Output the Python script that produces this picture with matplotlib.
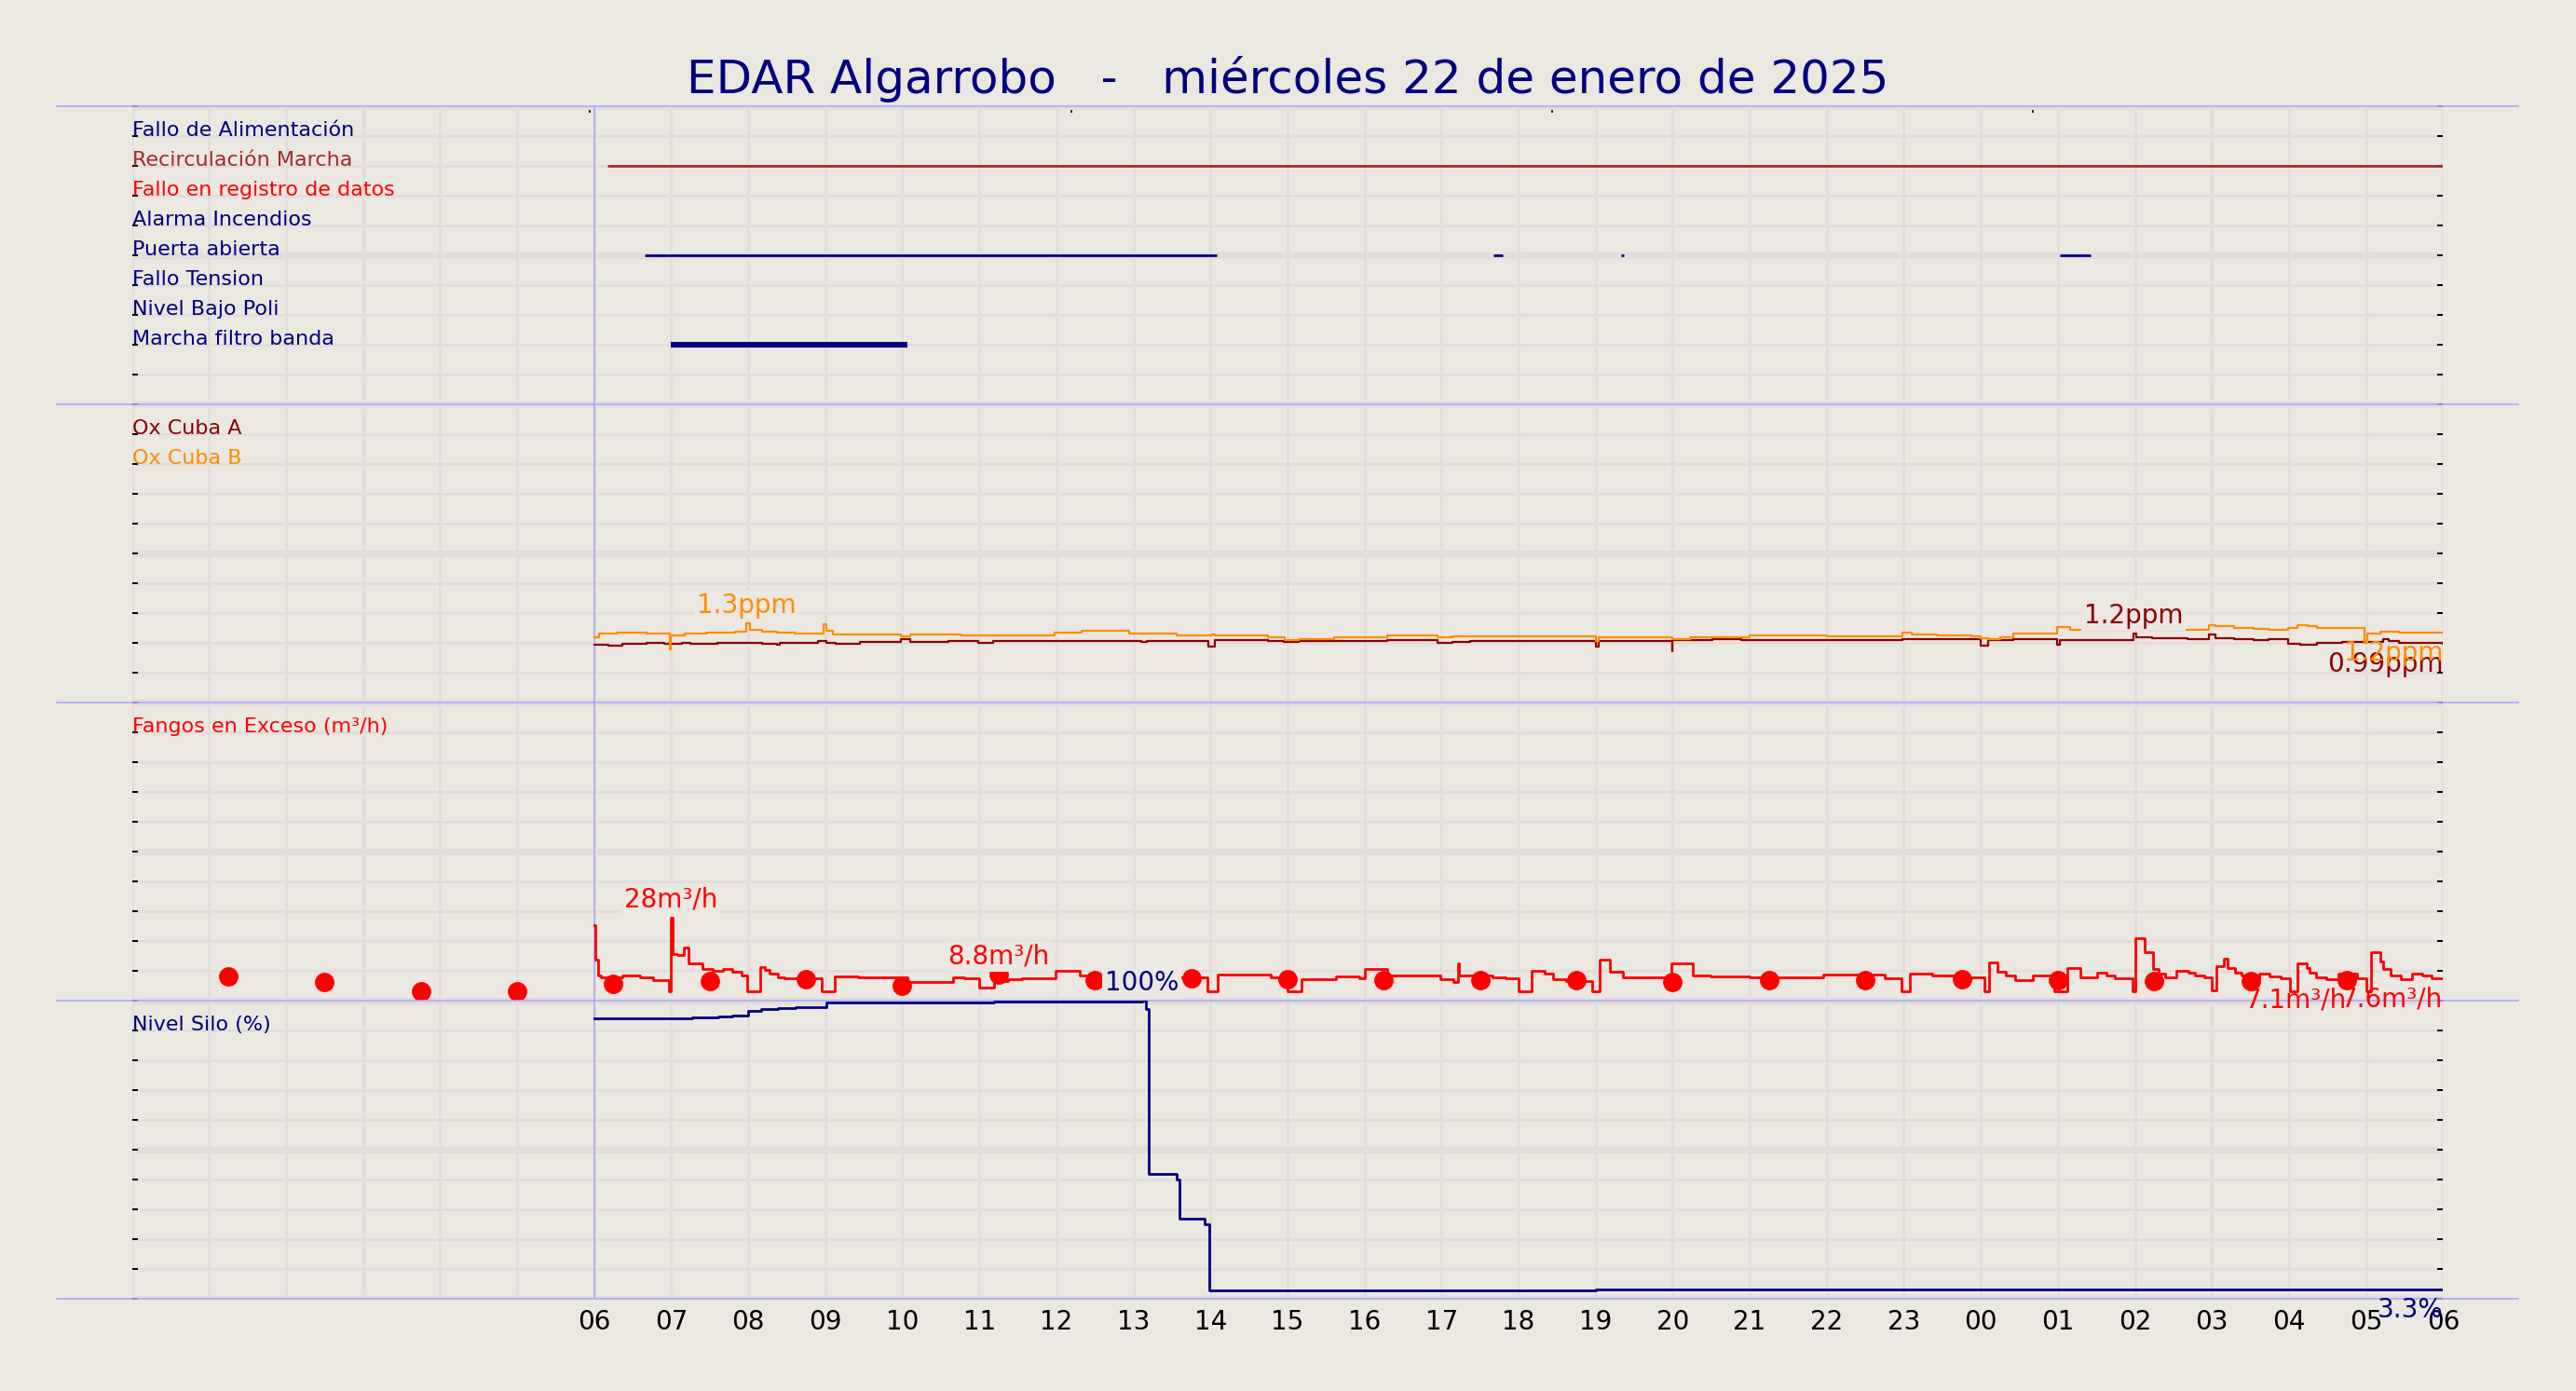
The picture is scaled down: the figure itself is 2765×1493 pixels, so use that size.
import numpy as np
import matplotlib.pyplot as plt

# ── Colours ───────────────────────────────────────────────────────────────────
BG = '#ebe7e1'
GRID = '#e2dddb'
SEP = '#aaaaff'

TITLE = 'EDAR Algarrobo   -   miércoles 22 de enero de 2025'

# hours counted from 00:00 of 22 Jan
HOURS = list(range(0, 31))
HOUR_LABELS = ['' if h < 6 else f'{h % 24:02d}' for h in HOURS]
TOP_TICKS = [5.94, 12.19, 18.43, 24.68]
DAY_START = 6.0

# ── Panel 1: digital signals ─────────────────────────────────────────────────
ROW_NAMES = ['Fallo de Alimentación', 'Recirculación Marcha', 'Fallo en registro de datos',
             'Alarma Incendios', 'Puerta abierta', 'Fallo Tension', 'Nivel Bajo Poli',
             'Marcha filtro banda']
ROW_COLORS = ['navy', 'brown', 'red', 'navy', 'navy', 'navy', 'navy', 'navy']
ROW_ON = [[], [(6.17, 30.0)], [], [],
          [(6.66, 14.08), (17.67, 17.80), (19.33, 19.37), (25.03, 25.43)],
          [], [], [(7.0, 10.07)]]

# ── Panel 2: oxygen (ppm) ─────────────────────────────────────────────────────
OX_A_T = [6.0, 6.18, 6.37, 6.68, 6.91, 7.14, 7.25, 7.6, 8.18, 8.37, 8.41, 8.91, 9.02, 9.14,
          9.45, 9.98, 10.1, 10.6, 10.98, 11.18, 13.1, 13.18, 13.97, 14.06, 14.75, 14.95,
          15.14, 16.29, 16.95, 17.14, 17.37, 19.0, 19.04, 19.99, 20.0, 20.52, 20.89, 22.98,
          24.0, 24.09, 24.42, 24.99, 25.03, 25.98, 26.02, 26.22, 26.39, 26.68, 26.96, 27.05,
          27.29, 27.54, 27.74, 27.99, 28.15, 28.36, 28.69, 29.22, 29.3, 29.43, 30.0]
OX_A = [0.975, 0.96, 0.985, 1.0, 0.99, 1.01, 0.99, 1.01, 0.99, 0.975, 1.01, 1.03, 1.01, 0.99,
        1.017, 1.064, 1.027, 1.037, 1.01, 1.03, 1.02, 1.037, 0.94, 1.053, 1.043, 1.02,
        1.037, 1.053, 1.0, 1.027, 1.037, 0.95, 1.037, 0.86, 1.053, 1.064, 1.053, 1.07,
        0.96, 1.053, 1.07, 0.975, 1.053, 1.16, 1.105, 1.08, 1.09, 1.07, 1.15, 1.08,
        1.064, 1.053, 1.064, 0.99, 0.975, 1.0, 1.027, 1.064, 1.043, 1.01, 0.99]

OX_B_T = [6.0, 6.06, 6.29, 6.68, 6.98, 7.0, 7.18, 7.45, 7.83, 7.98, 8.02, 8.18, 8.37, 8.6,
          8.98, 9.02, 9.1, 9.98, 10.1, 10.75, 10.98, 11.98, 12.33, 12.95, 13.14, 13.56,
          14.02, 14.06, 14.75, 14.97, 15.14, 15.6, 16.29, 16.95, 17.14, 19.0, 19.04, 19.99,
          20.23, 20.52, 21.0, 22.0, 22.98, 23.1, 23.43, 23.88, 24.0, 24.09, 24.25, 24.42,
          24.99, 25.16, 26.96, 27.05, 27.29, 27.54, 27.74, 27.99, 28.11, 28.24, 28.36,
          28.98, 29.02, 29.18, 29.43, 30.0]
OX_B = [1.105, 1.157, 1.173, 1.157, 0.90, 1.13, 1.168, 1.178, 1.199, 1.33, 1.22, 1.199,
        1.178, 1.168, 1.32, 1.21, 1.147, 1.116, 1.147, 1.137, 1.126, 1.178, 1.21, 1.168,
        1.157, 1.126, 1.147, 1.126, 1.105, 1.053, 1.069, 1.105, 1.126, 1.095, 1.116, 1.03,
        1.095, 1.074, 1.095, 1.105, 1.126, 1.116, 1.184, 1.147, 1.13, 1.116, 1.08, 1.069,
        1.105, 1.168, 1.27, 1.22, 1.31, 1.28, 1.26, 1.24, 1.22, 1.25, 1.31, 1.29, 1.26,
        1.0, 1.168, 1.19, 1.178, 1.178]

# ── Panel 3: excess sludge (m³/h) ─────────────────────────────────────────────
FANGOS_T = [6.0, 6.01, 6.05, 6.09, 6.37, 6.59, 6.77, 6.97, 7.0, 7.02, 7.08, 7.16, 7.23, 7.41,
            7.54, 7.67, 7.79, 7.91, 7.99, 8.16, 8.22, 8.28, 8.38, 8.47, 8.65, 8.96, 9.12,
            9.43, 10.07, 10.66, 10.81, 11.0, 11.19, 11.37, 11.56, 11.99, 12.3, 12.48, 13.16,
            13.22, 13.96, 14.09, 14.78, 14.89, 15.0, 15.18, 15.63, 15.93, 16.0, 16.3, 16.98,
            17.15, 17.21, 17.23, 17.66, 17.83, 18.0, 18.17, 18.34, 18.45, 18.62, 18.96, 19.05,
            19.19, 19.36, 19.98, 20.26, 20.49, 21.0, 21.96, 22.75, 22.97, 23.08, 23.37, 23.71,
            24.05, 24.11, 24.22, 24.33, 24.44, 24.67, 24.95, 25.12, 25.29, 25.51, 25.63,
            25.74, 25.97, 26.0, 26.13, 26.23, 26.31, 26.39, 26.54, 26.7, 26.78, 26.9, 27.0,
            27.06, 27.16, 27.2, 27.3, 27.38, 27.42, 27.61, 27.75, 27.89, 28.01, 28.11, 28.23,
            28.27, 28.35, 28.49, 28.64, 28.88, 29.0, 29.07, 29.18, 29.22, 29.32, 29.45, 29.6,
            29.73, 29.85, 30.0]
FANGOS = [25.4, 13.8, 8.5, 8.0, 8.5, 8.0, 7.0, 3.3, 28.0, 15.8, 15.3, 17.9, 12.5, 10.8,
          10.1, 10.8, 9.8, 8.5, 3.3, 11.5, 10.5, 9.1, 8.0, 7.7, 7.5, 3.3, 8.3,
          7.9, 6.5, 7.8, 7.7, 4.6, 6.8, 7.2, 7.7, 10.1, 8.5, 7.5, 11.0,
          8.0, 3.3, 8.9, 8.0, 7.3, 3.3, 7.3, 8.3, 7.5, 10.8, 8.5, 7.3,
          6.25, 12.7, 8.5, 7.9, 7.5, 3.3, 10.1, 9.1, 7.2, 6.7, 3.3, 13.75,
          9.8, 8.0, 12.7, 8.5, 8.2, 8.0, 8.9, 7.5, 3.3, 9.1, 8.5, 8.0,
          3.3, 12.9, 9.8, 8.5, 7.0, 8.5, 3.3, 11.1, 8.0, 9.6, 8.5,
          7.5, 3.3, 21.0, 16.4, 10.8, 9.1, 8.0, 10.1, 9.6, 8.5, 7.9, 3.5,
          11.7, 14.1, 11.1, 9.6, 8.5, 7.5, 9.1, 8.2, 7.7, 3.3, 12.7, 11.1,
          9.4, 8.0, 7.2, 9.1, 7.7, 3.3, 16.4, 13.2, 10.8, 8.5, 7.3, 9.1,
          8.5, 7.7, 7.6]

DOTS_T = [1.25, 2.5, 3.75, 5.0, 6.25, 7.5, 8.75, 10.0, 11.25, 12.5, 13.75, 15.0,
          16.25, 17.5, 18.75, 20.0, 21.25, 22.5, 23.75, 25.0, 26.25, 27.5, 28.75]
DOTS = [8.3, 6.2, 3.3, 3.3, 5.7, 6.6, 7.3, 5.2, 8.8, 7.1, 7.5, 7.4,
        7.0, 7.0, 7.0, 6.5, 7.0, 7.0, 7.3, 7.0, 6.8, 6.8, 7.1]

# ── Panel 4: silo level (%) ───────────────────────────────────────────────────
SILO_T = [6.0, 7.27, 7.61, 7.79, 8.0, 8.17, 8.38, 8.61, 9.01, 10.0, 11.19, 13.11, 13.16,
          13.2, 13.56, 13.6, 13.93, 13.98, 19.0, 30.0]
SILO = [94.3, 94.6, 94.9, 95.2, 96.8, 97.2, 97.5, 98.0, 99.4, 99.6, 99.9, 100.0, 97.4,
        42.1, 40.0, 27.1, 25.2, 3.0, 3.3, 3.3]


def fmt(v):
    return f'{v:.0f}' if v >= 100 else f'{v:.2g}'


def label_max(ax, t, v, color, unit):
    v = np.asarray(v)
    i = int(np.argmax(v))
    ax.annotate(fmt(v[i]) + unit, (t[i], v[i]), xytext=(0, 2), textcoords='offset points',
                ha='center', va='bottom', color=color, fontsize=10, zorder=6,
                annotation_clip=False,
                bbox=dict(boxstyle='square,pad=0.1', fc=BG, ec='none'))


def label_last(ax, t, v, color, unit, draw_ax=None):
    # draw_ax: axes drawn later, so the text is not covered by the next panel
    target = draw_ax if draw_ax is not None else ax
    target.annotate(fmt(v[-1]) + unit, (t[-1], v[-1]), xycoords=ax.transData,
                    xytext=(0, -3), textcoords='offset points',
                    ha='right', va='top', color=color, fontsize=10, zorder=6,
                    annotation_clip=False)


fig, axes = plt.subplots(4, 1, sharex=True, figsize=(13.825, 7.465), dpi=200)
fig.patch.set_facecolor(BG)
fig.subplots_adjust(left=0.0512, right=0.9484, top=0.9234, bottom=0.0661, hspace=0)

ymax = [10, 5, 100, 100]
for ax, top in zip(axes, ymax):
    ax.set_facecolor('none')
    ax.set_xlim(0, 30)
    ax.set_ylim(0, top)
    ax.set_xticks(HOURS)
    ax.set_yticks([0, top / 2, top])
    ax.set_yticks(np.linspace(0, top, 11), minor=True)
    ax.set_axisbelow(True)
    ax.grid(which='major', axis='y', color=GRID, lw=2.6)
    ax.grid(which='minor', axis='y', color=GRID, lw=1.0)
    ax.grid(which='major', axis='x', color=GRID, lw=1.0)
    for s in ax.spines.values():
        s.set_visible(False)
    ax.tick_params(axis='y', which='both', direction='in', length=2, width=0.7,
                   left=True, right=True, labelleft=False)
    ax.tick_params(axis='x', length=0, labelbottom=False)
    ax.axhline(top, xmin=-0.0325, xmax=1.0325, color=SEP, lw=0.6, clip_on=False, zorder=1.5)
    ax.axvline(DAY_START, color=SEP, lw=0.6, zorder=1.5)

axes[-1].axhline(0, xmin=-0.0325, xmax=1.0325, color=SEP, lw=0.6, clip_on=False, zorder=1.5)
axes[-1].tick_params(axis='x', labelbottom=True, labelsize=10, pad=4)
axes[-1].set_xticklabels(HOUR_LABELS)

# Panel 1
ax = axes[0]
for k, (name, col, spans) in enumerate(zip(ROW_NAMES, ROW_COLORS, ROW_ON)):
    level = 9 - k
    ax.text(0, level, name, color=col, fontsize=8, ha='left', va='baseline', zorder=5)
    for a, b in spans:
        ax.hlines(level, a, b, color=col, lw=2.2 if name == 'Marcha filtro banda' else 1.0)
sec = ax.secondary_xaxis('top')
sec.set_xticks(TOP_TICKS)
sec.tick_params(direction='in', length=2.5, width=0.6, labeltop=False)
sec.spines['top'].set_visible(False)

# Panel 2
ax = axes[1]
ax.text(0, 4.5, 'Ox Cuba A', color='darkred', fontsize=8, va='baseline')
ax.text(0, 4.0, 'Ox Cuba B', color='darkorange', fontsize=8, va='baseline')
ax.step(OX_A_T, OX_A, where='post', color='darkred', lw=0.8)
ax.step(OX_B_T, OX_B, where='post', color='darkorange', lw=0.8)
label_max(ax, OX_B_T, OX_B, 'darkorange', 'ppm')
label_max(ax, OX_A_T, OX_A, 'darkred', 'ppm')
label_last(ax, OX_A_T, OX_A, 'darkred', 'ppm')
label_last(ax, OX_B_T, OX_B, 'darkorange', 'ppm')

# Panel 3
ax = axes[2]
ax.text(0, 90, 'Fangos en Exceso (m³/h)', color='red', fontsize=8, va='baseline')
ax.step(FANGOS_T, FANGOS, where='post', color='red', lw=1.0)
ax.plot(DOTS_T, DOTS, 'o', color='red', ms=6.5, zorder=3)
label_max(ax, FANGOS_T, FANGOS, 'red', 'm³/h')
label_max(ax, DOTS_T, DOTS, 'red', 'm³/h')
label_last(ax, DOTS_T, DOTS, 'red', 'm³/h', draw_ax=axes[3])
label_last(ax, FANGOS_T, FANGOS, 'red', 'm³/h', draw_ax=axes[3])

# Panel 4
ax = axes[3]
ax.text(0, 90, 'Nivel Silo (%)', color='navy', fontsize=8, va='baseline')
ax.step(SILO_T, SILO, where='post', color='navy', lw=1.0)
label_max(ax, SILO_T, SILO, 'navy', '%')
label_last(ax, SILO_T, SILO, 'navy', '%')

fig.text(0.5, 0.933, TITLE, ha='center', va='baseline', fontsize=18, color='navy')

fig.savefig('out.png', dpi=200, facecolor=BG)
